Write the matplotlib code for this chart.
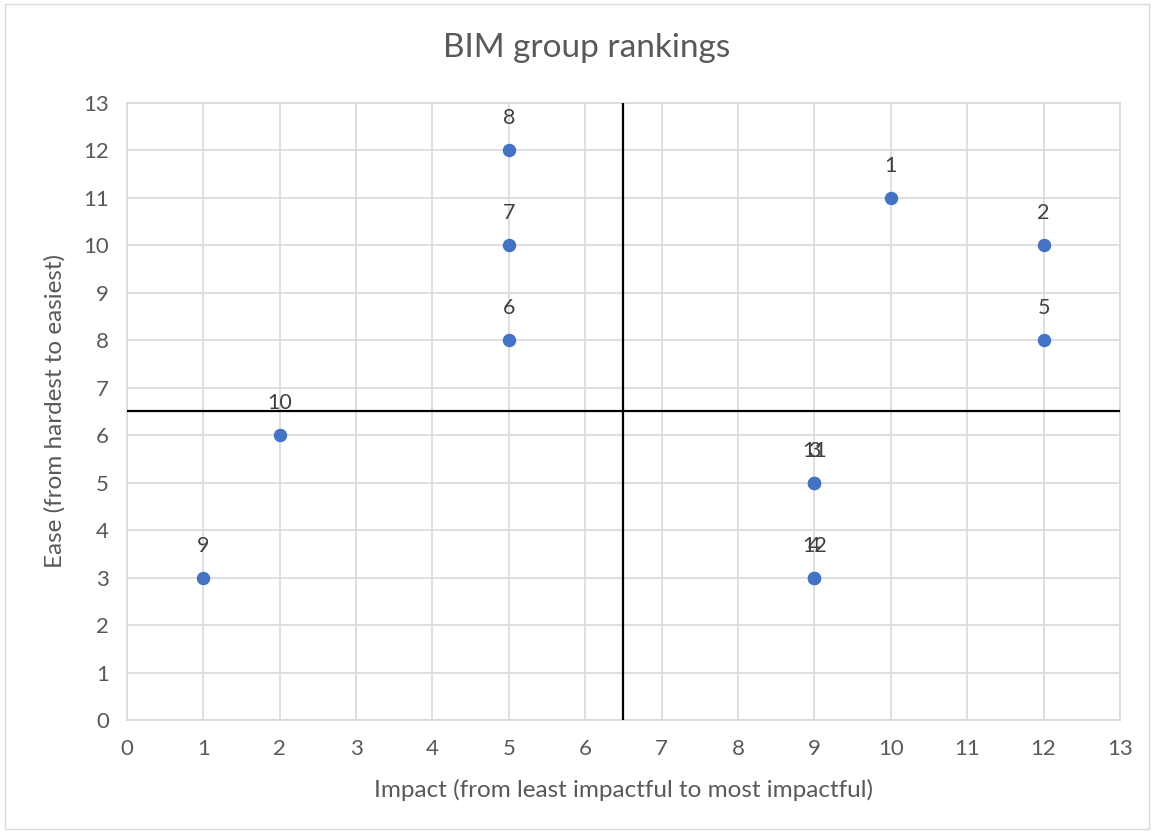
import matplotlib.pyplot as plt
from matplotlib.patches import Rectangle

# Group rankings: impact (x) vs ease (y), labelled by item number
items = [1, 2, 3, 4, 5, 6, 7, 8, 9, 10, 11, 12]
impact = [10, 12, 9, 9, 12, 5, 5, 5, 1, 2, 9, 9]
ease = [11, 10, 5, 3, 8, 8, 10, 12, 3, 6, 5, 3]
axis_ticks = list(range(0, 14))
split = 6.5

plt.rcParams['font.family'] = ['Lato', 'DejaVu Sans']
text_color = '#595959'
grid_color = '#D9D9D9'

fig = plt.figure(figsize=(11.54, 8.33), dpi=100)
ax = fig.add_axes([0.110, 0.1357, 0.8605, 0.7407])

ax.scatter(impact, ease, s=75, color='#4472C4', zorder=4)
for n, x, y in zip(items, impact, ease):
    ax.annotate(str(n), (x, y), xytext=(0, 23), textcoords='offset points',
                ha='center', va='center', fontsize=15.5, color='#404040', zorder=5)

# Quadrant dividers
ax.axvline(split, color='black', linewidth=1.6, zorder=3)
ax.axhline(split, color='black', linewidth=1.6, zorder=3)

ax.set_xlim(0, 13)
ax.set_ylim(0, 13)
ax.set_xticks(axis_ticks)
ax.set_yticks(axis_ticks)
ax.grid(color=grid_color, linewidth=1.2, zorder=0)
ax.set_axisbelow(True)
for s in ax.spines.values():
    s.set_color(grid_color)
    s.set_linewidth(1.2)
ax.tick_params(axis='x', length=0, labelsize=16, labelcolor=text_color, pad=14)
ax.tick_params(axis='y', length=0, labelsize=16, labelcolor=text_color, pad=13)

ax.set_xlabel('Impact (from least impactful to most impactful)', fontsize=17.5,
              color=text_color, labelpad=14)
ax.set_ylabel('Ease (from hardest to easiest)', fontsize=17.5,
              color=text_color, labelpad=13)
fig.text(0.508, 0.942, 'BIM group rankings', ha='center', va='center',
         fontsize=24, color=text_color)

# Outer chart border
fig.patches.append(Rectangle((0.004, 0.005), 0.992, 0.99, transform=fig.transFigure,
                             fill=False, edgecolor=grid_color, linewidth=1))

fig.savefig('out.png', dpi=100)
